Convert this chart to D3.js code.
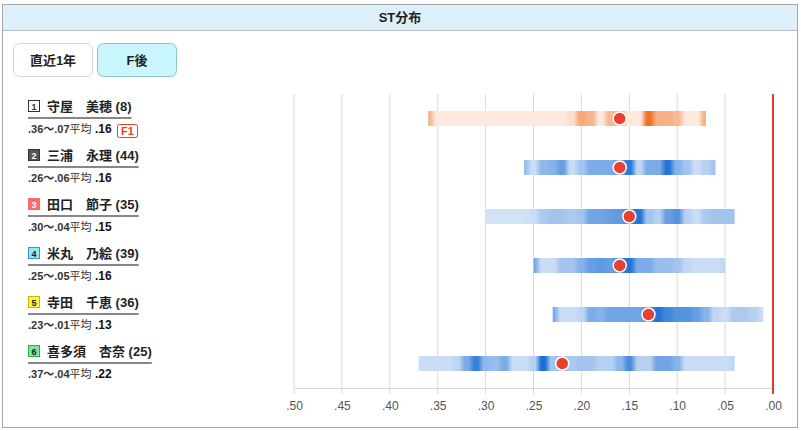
<!DOCTYPE html>
<html>
<head>
<meta charset="utf-8">
<script src="https://d3js.org/d3.v7.min.js"></script>
<style>
  body { margin: 0; background: #fff; }
  svg { display: block; font-family: "Liberation Sans", "Noto Sans CJK JP", sans-serif; }
</style>
</head>
<body>
<svg id="chart" width="801" height="431"></svg>
<script>
// racers
const lanes = [1, 2, 3, 4, 5, 6]
const names = ["守屋　美穂", "三浦　永理", "田口　節子", "米丸　乃絵", "寺田　千恵", "喜多須　杏奈"]
const counts = [8, 44, 35, 39, 36, 25]
const stMax = [0.36, 0.26, 0.30, 0.25, 0.23, 0.37]
const stMin = [0.07, 0.06, 0.04, 0.05, 0.01, 0.04]
const stAvg = [0.16, 0.16, 0.15, 0.16, 0.13, 0.22]
const flying = [1, 0, 0, 0, 0, 0]

// density per 0.01 step, from stMax down to stMin (0 = light, 1 = dark)
const density = [
  [0.45,0,0,0,0,0,0,0,0,0,0,0,0,0,0,0.1,0.55,0.45,0,0.4,0.5,0,0,1,0.5,0.5,0.4,0,0,0.5],
  [0.35,0.1,0.4,0.45,0.6,0.1,0.3,0.5,0.5,0.5,0.6,0.9,0.15,0.5,0.5,0.95,0.45,0.3,0.1,0.2,0.3],
  [0.05,0.05,0.05,0.05,0.05,0.1,0.25,0.3,0.3,0.25,0.3,0.55,0.55,0.6,0.65,0.8,0.95,0.3,0.2,0.6,0.7,0.2,0.1,0.25,0.3,0.3,0.3],
  [0.5,0.1,0.1,0.3,0.3,0.45,0.6,0.65,0.6,0.8,0.95,0.5,0.5,0.35,0.35,0.3,0.15,0.1,0.1,0.1,0.15],
  [0.5,0.1,0.1,0.15,0.5,0.45,0.55,0.55,0.55,0.55,0.7,0.95,0.8,0.7,0.7,0.6,0.45,0.15,0.1,0.25,0.25,0.2,0.1],
  [0.1,0.1,0.1,0.1,0.15,0.5,0.85,0.4,0.35,0.5,0.1,0.1,0.2,1.0,0.3,0.3,0.25,0.3,0.3,0.2,0.2,0.4,0.75,0.2,0.2,0.55,0.55,0.45,0.1,0.1,0.1,0.1,0.1,0.15]
]

const tickValues = [0.50, 0.45, 0.40, 0.35, 0.30, 0.25, 0.20, 0.15, 0.10, 0.05, 0.00]
const laneFill = ["#ffffff", "#555555", "#f76b6b", "#8fe9f7", "#fcf63a", "#7de89a"]
const laneStroke = ["#333333", "#333333", "#f76b6b", "#3a8ed6", "#c9b800", "#2fa84e"]
const laneText = ["#333", "#fff", "#fff", "#222", "#222", "#222"]

const svg = d3.select("#chart")

// frame + header
svg.append("rect").attr("x", 2.5).attr("y", 4.5).attr("width", 795).attr("height", 423)
    .attr("fill", "#fff").attr("stroke", "#a8a8a8")
svg.append("rect").attr("x", 3).attr("y", 5).attr("width", 794).attr("height", 25)
    .attr("fill", "#ddf0fb")
svg.append("line").attr("x1", 3).attr("x2", 797).attr("y1", 30.5).attr("y2", 30.5)
    .attr("stroke", "#bcbcbc")
svg.append("text").attr("x", 400).attr("y", 22).attr("text-anchor", "middle")
    .attr("font-size", 13).attr("font-weight", "bold").attr("fill", "#222").text("ST分布")

// buttons
const buttons = [{label: "直近1年", x: 13, fill: "#fff", stroke: "#d4d4d4"},
                 {label: "F後", x: 97, fill: "#c9f6fc", stroke: "#8fc3cc"}]
const btnG = svg.selectAll("g.btn").data(buttons).enter().append("g").attr("class", "btn")
btnG.append("rect").attr("x", d => d.x + 0.5).attr("y", 43.5).attr("width", 79).attr("height", 33)
    .attr("rx", 6).attr("fill", d => d.fill).attr("stroke", d => d.stroke)
btnG.append("text").attr("x", d => d.x + 40).attr("y", 65).attr("text-anchor", "middle")
    .attr("font-size", 13).attr("font-weight", "bold").attr("fill", "#222").text(d => d.label)

// scale
const x = d3.scaleLinear().domain([0.50, 0.00]).range([294, 773])
const plotTop = 94, plotBottom = 388
const rowY = i => 118.5 + i * 49

// grid
svg.append("g").selectAll("line").data(tickValues.slice(0, -1)).enter().append("line")
    .attr("x1", d => x(d)).attr("x2", d => x(d)).attr("y1", plotTop).attr("y2", plotBottom + 6)
    .attr("stroke", "#d9d9d9")

const axis = d3.axisBottom(x).tickValues(tickValues).tickSize(0).tickPadding(13)
    .tickFormat(d => d3.format(".2f")(d).replace(/^0/, ""))
const axisG = svg.append("g").attr("transform", "translate(0," + plotBottom + ")").call(axis)
axisG.select(".domain").attr("stroke", "#d9d9d9")
axisG.selectAll("text").attr("font-size", 12).attr("fill", "#555")
    .attr("font-family", "'Liberation Sans', sans-serif")

// red zero line
svg.append("line").attr("x1", x(0)).attr("x2", x(0)).attr("y1", plotTop).attr("y2", plotBottom + 6)
    .attr("stroke", "#e23b2e").attr("stroke-width", 2)

// gradients
const defs = svg.append("defs")
const rows = lanes.map((l, i) => ({i, lane: l, name: names[i], count: counts[i],
    max: stMax[i], min: stMin[i], avg: stAvg[i], f: flying[i], dens: density[i]}))

rows.forEach(r => {
    const col = r.f ? d3.interpolateRgb("#fde9dd", "#f07428") : d3.interpolateRgb("#dde9f8", "#1a6ed6")
    const g = defs.append("linearGradient").attr("id", "grad" + r.i)
        .attr("x1", 0).attr("x2", 1).attr("y1", 0).attr("y2", 0)
    const w = x(r.min) - x(r.max)
    const stops = []
    r.dens.forEach((v, k) => {
        const st = Math.round((r.max - k * 0.01) * 100) / 100
        const c = x(st) - x(r.max)
        const half = 0.2 * (x(0) - x(0.01))
        stops.push({o: Math.max(0, (c - half) / w), c: col(v)})
        stops.push({o: Math.min(1, (c + half) / w), c: col(v)})
    })
    g.selectAll("stop").data(stops).enter().append("stop")
        .attr("offset", d => d.o).attr("stop-color", d => d.c)
})

// bars + dots
const barG = svg.append("g").selectAll("g").data(rows).enter().append("g")
barG.append("rect").attr("x", d => x(d.max)).attr("y", d => rowY(d.i) - 7.5)
    .attr("width", d => x(d.min) - x(d.max)).attr("height", 15)
    .attr("fill", d => "url(#grad" + d.i + ")")
barG.append("circle").attr("cx", d => x(d.avg)).attr("cy", d => rowY(d.i)).attr("r", 6.5)
    .attr("fill", "#e8412f").attr("stroke", "#fff").attr("stroke-width", 1.5)

// labels
const labG = svg.append("g").selectAll("g").data(rows).enter().append("g")
    .attr("transform", d => "translate(0," + (rowY(d.i) - 18.5) + ")")
labG.append("rect").attr("x", 28.5).attr("y", 0.5).attr("width", 11).attr("height", 11)
    .attr("fill", d => laneFill[d.i]).attr("stroke", d => laneStroke[d.i])
labG.append("text").attr("x", 34).attr("y", 9.5).attr("text-anchor", "middle")
    .attr("font-size", 9).attr("font-weight", "bold").attr("fill", d => laneText[d.i])
    .text(d => d.lane)
labG.append("text").attr("class", "nm").attr("x", 47).attr("y", 11).attr("font-size", 13)
    .attr("font-weight", "bold").attr("fill", "#222").text(d => d.name + " (" + d.count + ")")
labG.each(function(d) {
    const len = d3.select(this).select("text.nm").node().getComputedTextLength()
    d3.select(this).append("line").attr("x1", 28).attr("x2", 47 + len).attr("y1", 18).attr("y2", 18)
        .attr("stroke", "#111").attr("stroke-width", 1.2)
})
const sub = labG.append("text").attr("x", 28).attr("y", 33).attr("fill", "#333")
sub.append("tspan").attr("font-size", 11).attr("font-weight", "bold")
    .text(d => d3.format(".2f")(d.max).replace(/^0/, "") + "〜" + d3.format(".2f")(d.min).replace(/^0/, ""))
sub.append("tspan").attr("font-size", 11).text("平均")
sub.append("tspan").attr("font-size", 12).attr("font-weight", "bold").attr("fill", "#111")
    .text(d => " " + d3.format(".2f")(d.avg).replace(/^0/, ""))

const fG = labG.filter(d => d.f > 0)
fG.append("rect").attr("x", 117.5).attr("y", 24.5).attr("width", 20).attr("height", 13).attr("rx", 2)
    .attr("fill", "#fff").attr("stroke", "#e8412f")
fG.append("text").attr("x", 127.5).attr("y", 35).attr("text-anchor", "middle").attr("font-size", 11)
    .attr("font-weight", "bold").attr("fill", "#e8412f")
    .text(d => "F" + d.f)
</script>
</body>
</html>
